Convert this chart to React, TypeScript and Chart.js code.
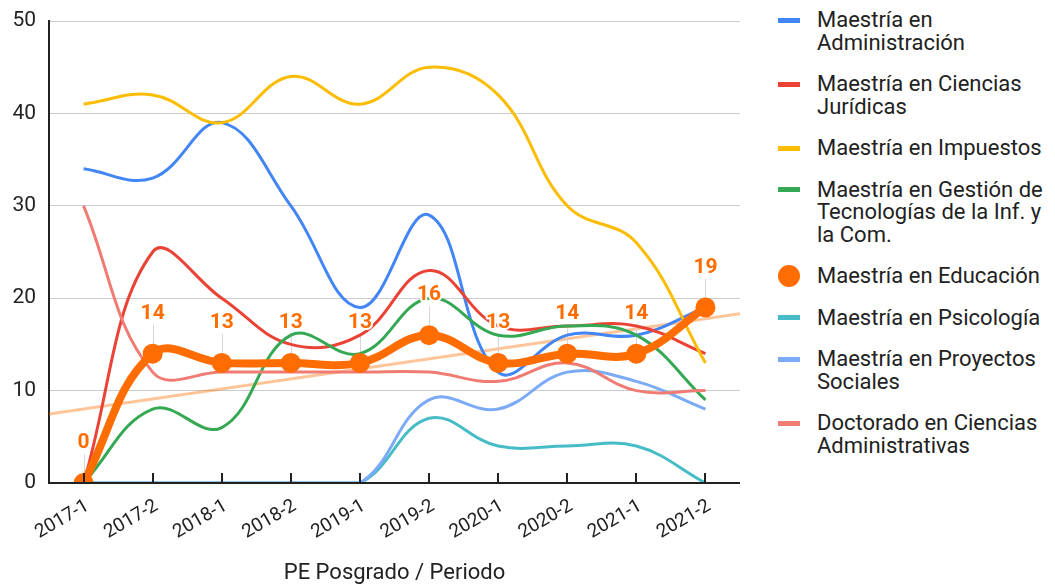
import React, { useEffect, useRef } from 'react';
import { Chart, registerables } from 'chart.js';

Chart.register(...registerables);

const periods = ['2017-1', '2017-2', '2018-1', '2018-2', '2019-1', '2019-2', '2020-1', '2020-2', '2021-1', '2021-2'];

const administracion = [34, 33, 39, 30, 19, 29, 12, 16, 16, 19];
const cienciasJuridicas = [0, 25, 20, 15, 16, 23, 17, 17, 17, 14];
const impuestos = [41, 42, 39, 44, 41, 45, 42, 30, 26, 13];
const gestionTic = [0, 8, 6, 16, 14, 20, 16, 17, 16, 9];
const educacion = [0, 14, 13, 13, 13, 16, 13, 14, 14, 19];
const psicologia = [0, 0, 0, 0, 0, 7, 4, 4, 4, 0];
const proyectosSociales = [0, 0, 0, 0, 0, 9, 8, 12, 11, 8];
const doctoradoAdmin = [30, 12, 12, 12, 12, 12, 11, 13, 10, 10];

const seriesNames: string[][] = [
  ['Maestría en', 'Administración'],
  ['Maestría en Ciencias', 'Jurídicas'],
  ['Maestría en Impuestos'],
  ['Maestría en Gestión de', 'Tecnologías de la Inf. y', 'la Com.'],
  ['Maestría en Educación'],
  ['Maestría en Psicología'],
  ['Maestría en Proyectos', 'Sociales'],
  ['Doctorado en Ciencias', 'Administrativas'],
];
const seriesValues = [administracion, cienciasJuridicas, impuestos, gestionTic, educacion, psicologia, proyectosSociales, doctoradoAdmin];
const seriesColors = ['#4285F4', '#EA4335', '#FBBC04', '#34A853', '#FF6D01', '#46BDC6', '#7BAAF7', '#F07B72'];
const highlightIndex = 4;

const yTicks = [0, 10, 20, 30, 40, 50];
const xTitle = 'PE Posgrado / Periodo';

const FONT = 'Roboto, "Noto Sans", Arial, sans-serif';

const overlayPlugin = {
  id: 'overlay',
  beforeDatasetsDraw(chart: any) {
    const { ctx, chartArea, scales } = chart;
    const x = scales.x;
    const y = scales.y;
    // least-squares trendline of the highlighted series
    const vals = seriesValues[highlightIndex];
    const n = vals.length;
    const mx = (n - 1) / 2;
    const my = vals.reduce((a, b) => a + b, 0) / n;
    let sxy = 0;
    let sxx = 0;
    vals.forEach((v, i) => {
      sxy += (i - mx) * (v - my);
      sxx += (i - mx) * (i - mx);
    });
    const slope = sxy / sxx;
    const icpt = my - slope * mx;
    const x0 = -0.5;
    const x1 = n - 0.5;
    ctx.save();
    ctx.beginPath();
    ctx.rect(chartArea.left, chartArea.top, chartArea.right - chartArea.left, chartArea.bottom - chartArea.top);
    ctx.clip();
    ctx.strokeStyle = 'rgba(255,109,1,0.4)';
    ctx.lineWidth = 3;
    ctx.beginPath();
    ctx.moveTo(x.getPixelForValue(x0), y.getPixelForValue(icpt + slope * x0));
    ctx.lineTo(x.getPixelForValue(x1), y.getPixelForValue(icpt + slope * x1));
    ctx.stroke();
    // annotation stems
    const meta = chart.getDatasetMeta(highlightIndex);
    ctx.strokeStyle = '#d6d6d6';
    ctx.lineWidth = 1;
    meta.data.forEach((pt: any) => {
      ctx.beginPath();
      ctx.moveTo(Math.round(pt.x) + 0.5, pt.y - 29);
      ctx.lineTo(Math.round(pt.x) + 0.5, pt.y);
      ctx.stroke();
    });
    ctx.restore();
  },
  afterDatasetsDraw(chart: any) {
    const { ctx, chartArea, scales } = chart;
    const x = scales.x;
    ctx.save();
    // bottom axis line and upward ticks
    ctx.strokeStyle = '#222';
    ctx.lineWidth = 2;
    ctx.beginPath();
    ctx.moveTo(chartArea.left - 1, chartArea.bottom);
    ctx.lineTo(chartArea.right, chartArea.bottom);
    ctx.stroke();
    periods.forEach((_, i) => {
      const px = Math.round(x.getPixelForTick(i));
      ctx.beginPath();
      ctx.moveTo(px, chartArea.bottom - 10);
      ctx.lineTo(px, chartArea.bottom);
      ctx.stroke();
    });
    // value labels
    const meta = chart.getDatasetMeta(highlightIndex);
    const vals = seriesValues[highlightIndex];
    ctx.font = `bold 21px ${FONT}`;
    ctx.textAlign = 'center';
    ctx.textBaseline = 'middle';
    ctx.lineJoin = 'round';
    meta.data.forEach((pt: any, i: number) => {
      const t = String(vals[i]);
      ctx.strokeStyle = '#ffffff';
      ctx.lineWidth = 4;
      ctx.strokeText(t, pt.x, pt.y - 40);
      ctx.fillStyle = seriesColors[highlightIndex];
      ctx.fillText(t, pt.x, pt.y - 40);
    });
    ctx.restore();
  },
};

function ChartCanvas() {
  const ref = useRef<HTMLCanvasElement | null>(null);
  useEffect(() => {
    if (!ref.current) return;
    const datasets = seriesValues.map((vals, i) => {
      const hl = i === highlightIndex;
      return {
        label: seriesNames[i].join(' '),
        data: vals,
        borderColor: seriesColors[i],
        backgroundColor: seriesColors[i],
        borderWidth: hl ? 8 : 3,
        pointRadius: hl ? 10 : 0,
        pointHoverRadius: hl ? 10 : 0,
        pointBorderWidth: 0,
        tension: 0.4,
        fill: false,
        order: hl ? 0 : 10 - i,
      };
    });
    const chart = new Chart(ref.current, {
      type: 'line',
      data: { labels: periods, datasets },
      plugins: [overlayPlugin],
      options: {
        animation: false,
        responsive: true,
        maintainAspectRatio: false,
        layout: { padding: { top: 21, right: 20, left: 0, bottom: 0 } },
        plugins: { legend: { display: false }, tooltip: { enabled: false } },
        scales: {
          x: {
            offset: true,
            grid: { display: false },
            border: { display: false },
            ticks: {
              maxRotation: 30,
              minRotation: 30,
              color: '#222',
              padding: 4,
              labelOffset: 4,
              font: { family: FONT, size: 19 },
            },
            title: {
              display: true,
              text: xTitle,
              color: '#222',
              font: { family: FONT, size: 22 },
              padding: { top: 4, bottom: 1.5 },
            },
            afterFit: (s: any) => {
              s.height = 105;
            },
          },
          y: {
            min: yTicks[0],
            max: yTicks[yTicks.length - 1],
            afterBuildTicks: (s: any) => {
              s.ticks = yTicks.map((v) => ({ value: v }));
            },
            grid: { color: '#cccccc', drawTicks: false, lineWidth: 1 },
            border: { display: true, color: '#222', width: 2 },
            ticks: {
              color: '#222',
              padding: 13,
              font: { family: FONT, size: 21 },
            },
            afterFit: (s: any) => {
              s.width = 49;
              s.paddingTop = 0;
              s.paddingBottom = 0;
            },
          },
        },
      },
    });
    return () => chart.destroy();
  }, []);
  return <canvas ref={ref} />;
}

function Legend() {
  return (
    <div
      style={{
        position: 'absolute',
        left: 778,
        top: 9,
        fontFamily: FONT,
        fontSize: 22,
        lineHeight: '22.5px',
        color: '#222',
        whiteSpace: 'nowrap',
      }}
    >
      {seriesNames.map((lines, i) => (
        <div key={i} style={{ display: 'flex', marginBottom: 19 }}>
          <div style={{ width: 39, height: 22.5, position: 'relative', flex: 'none' }}>
            {i === highlightIndex ? (
              <div
                style={{
                  position: 'absolute',
                  left: 0,
                  top: 0.25,
                  width: 22,
                  height: 22,
                  borderRadius: '50%',
                  background: seriesColors[i],
                }}
              />
            ) : (
              <div
                style={{
                  position: 'absolute',
                  left: 0,
                  top: 8.75,
                  width: 22,
                  height: 5,
                  background: seriesColors[i],
                }}
              />
            )}
          </div>
          <div>
            {lines.map((l, j) => (
              <div key={j}>{l}</div>
            ))}
          </div>
        </div>
      ))}
    </div>
  );
}

export default function App() {
  return (
    <div style={{ position: 'absolute', left: 0, top: 0, width: 1055, height: 588, background: '#fff' }}>
      <div style={{ position: 'absolute', left: 0, top: 0, width: 760, height: 588 }}>
        <ChartCanvas />
      </div>
      <Legend />
    </div>
  );
}
